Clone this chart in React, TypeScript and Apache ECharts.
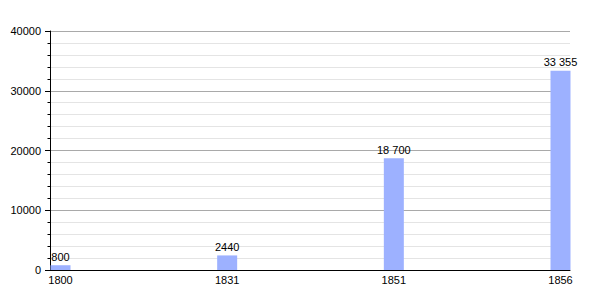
import React, { useEffect, useRef } from "react";
import * as echarts from "echarts";

const categories = ["1800", "1831", "1851", "1856"];
const values = [800, 2440, 18700, 33355];
const valueLabels = ["800", "2440", "18 700", "33 355"];
const yTicks = [0, 10000, 20000, 30000, 40000];

export default function App() {
  const ref = useRef<HTMLDivElement>(null);
  useEffect(() => {
    if (!ref.current) return;
    const chart = echarts.init(ref.current, null, { renderer: "svg" });
    const font = { fontFamily: "Liberation Sans, Arial, sans-serif", fontSize: 11, color: "#000" };
    chart.setOption({
      animation: false,
      grid: [
        { left: 50, top: 31, width: 520, height: 239, containLabel: false },
        { left: 60.5, top: 31, width: 500, height: 239, containLabel: false },
      ],
      xAxis: [
        {
          gridIndex: 0,
          type: "category",
          data: categories,
          axisLine: { show: true, lineStyle: { color: "#000", width: 1 } },
          axisTick: { show: false },
          axisLabel: { show: false },
          splitLine: { show: false },
        },
        {
          gridIndex: 1,
          type: "category",
          data: categories,
          boundaryGap: false,
          axisLine: { show: false },
          axisTick: { show: false },
          axisLabel: { ...font, margin: 4 },
          splitLine: { show: false },
        },
      ],
      yAxis: [
        {
          gridIndex: 0,
          type: "value",
          min: yTicks[0],
          max: yTicks[yTicks.length - 1],
          interval: 10000,
          axisLine: { show: true, lineStyle: { color: "#000", width: 1 } },
          axisTick: { show: true, length: 5, lineStyle: { color: "#000" } },
          minorTick: { show: true, splitNumber: 5, length: 2.5, lineStyle: { color: "#000" } },
          axisLabel: { ...font, margin: 9, formatter: (v: number) => String(v) },
          splitLine: { show: true, lineStyle: { color: "#a9a9a9", width: 1 } },
          minorSplitLine: { show: true, lineStyle: { color: "#e4e4e4", width: 1 } },
        },
        {
          gridIndex: 1,
          type: "value",
          min: 0,
          max: 40000,
          show: false,
          splitLine: { show: false },
        },
      ],
      series: [
        {
          type: "bar",
          xAxisIndex: 1,
          yAxisIndex: 1,
          data: values,
          barWidth: 20,
          clip: false,
          itemStyle: { color: "#9db1ff" },
          label: {
            show: true,
            position: "top",
            distance: 3,
            ...font,
            formatter: (p: any) => valueLabels[p.dataIndex],
          },
        },
      ],
    });
    return () => chart.dispose();
  }, []);
  return (
    <div
      ref={ref}
      style={{ position: "fixed", left: 0, top: 0, width: 600, height: 300, background: "#fff" }}
    />
  );
}
